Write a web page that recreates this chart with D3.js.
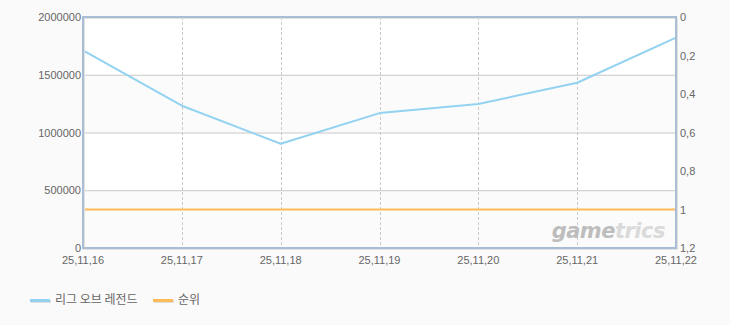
<!DOCTYPE html>
<html>
<head>
<meta charset="utf-8">
<script src="https://cdn.jsdelivr.net/npm/d3@7"></script>
<style>
  html, body { margin: 0; padding: 0; background: #fafafa; }
  svg { display: block; font-family: "Noto Sans CJK KR", "DejaVu Sans", sans-serif; }
</style>
</head>
<body>
<svg id="chart"></svg>
<script>
const dates = ["25,11,16", "25,11,17", "25,11,18", "25,11,19", "25,11,20", "25,11,21", "25,11,22"];
const players = [1710000, 1232000, 903000, 1168000, 1247000, 1431000, 1821000];
const ranks = [1, 1, 1, 1, 1, 1, 1];
const leftTicks = [0, 500000, 1000000, 1500000, 2000000];
const rightTicks = [0, 0.2, 0.4, 0.6, 0.8, 1, 1.2];
const seriesNames = ["리그 오브 레전드", "순위"];
const colors = ["#93d2f1", "#ffbb55"];

const width = 730, height = 325;
const margin = { top: 17, right: 54, bottom: 77, left: 83 };
const innerW = width - margin.left - margin.right;
const innerH = height - margin.top - margin.bottom;

const svg = d3.select("#chart").attr("width", width).attr("height", height);
svg.append("rect").attr("width", width).attr("height", height).attr("fill", "#fafafa");

const g = svg.append("g").attr("transform", `translate(${margin.left},${margin.top})`);

const x = d3.scalePoint().domain(dates).range([0, innerW]);
const y = d3.scaleLinear().domain([0, 2000000]).range([innerH, 0]);
const yR = d3.scaleLinear().domain([0, 1.2]).range([0, innerH]);

// ----------------------- background bands
g.selectAll(".band")
  .data(d3.pairs(leftTicks))
  .join("rect")
  .attr("class", "band")
  .attr("x", 0)
  .attr("width", innerW)
  .attr("y", d => y(d[1]))
  .attr("height", d => y(d[0]) - y(d[1]))
  .attr("fill", (_, i) => i % 2 === 0 ? "#fbfbfb" : "#ffffff");

// ----------------------- grid
g.selectAll(".hgrid")
  .data(leftTicks.slice(1, -1))
  .join("line")
  .attr("x1", 0).attr("x2", innerW)
  .attr("y1", d => y(d) + 0.5).attr("y2", d => y(d) + 0.5)
  .attr("stroke", "#c9c9c9");

g.selectAll(".vgrid")
  .data(dates.slice(1, -1))
  .join("line")
  .attr("x1", d => Math.round(x(d)) + 0.5).attr("x2", d => Math.round(x(d)) + 0.5)
  .attr("y1", 0).attr("y2", innerH)
  .attr("stroke", "#c9c9c9")
  .attr("stroke-dasharray", "3,2");

// ----------------------- watermark
const wm = g.append("text")
  .attr("x", innerW - 11)
  .attr("y", innerH - 10)
  .attr("text-anchor", "end")
  .attr("font-family", "DejaVu Sans")
  .attr("font-weight", "bold")
  .attr("font-style", "italic")
  .attr("font-size", 21)
  .attr("letter-spacing", -0.5);
wm.append("tspan").attr("fill", "#bdbdbd").text("game");
wm.append("tspan").attr("fill", "#dadada").text("trics");

// ----------------------- lines
const line = d3.line()
  .x((_, i) => x(dates[i]))
  .y(d => y(d));

g.append("path")
  .datum(players)
  .attr("fill", "none")
  .attr("stroke", colors[0])
  .attr("stroke-width", 2)
  .attr("stroke-linejoin", "round")
  .attr("d", line);

const rankLine = d3.line()
  .x((_, i) => x(dates[i]))
  .y(d => yR(d));

g.append("path")
  .datum(ranks)
  .attr("fill", "none")
  .attr("stroke", colors[1])
  .attr("stroke-width", 2)
  .attr("d", rankLine);

// ----------------------- frame
g.append("rect")
  .attr("x", 1).attr("y", 1)
  .attr("width", innerW).attr("height", innerH)
  .attr("fill", "none")
  .attr("stroke", "#e2e2e2")
  .attr("stroke-width", 2);
g.append("rect")
  .attr("x", 0).attr("y", 0)
  .attr("width", innerW).attr("height", innerH)
  .attr("fill", "none")
  .attr("stroke", "#a9bdd5")
  .attr("stroke-width", 2);

// ----------------------- axes labels
const labelColor = "#666";
const numFont = "Liberation Sans, Arial, sans-serif";

g.selectAll(".ly")
  .data(leftTicks)
  .join("text")
  .attr("x", -2)
  .attr("y", d => y(d) + 4)
  .attr("text-anchor", "end")
  .attr("font-family", numFont)
  .attr("font-size", 11)
  .attr("fill", labelColor)
  .text(d => d);

g.selectAll(".ry")
  .data(rightTicks)
  .join("text")
  .attr("x", innerW + 4)
  .attr("y", d => yR(d) + 4)
  .attr("font-family", numFont)
  .attr("font-size", 11)
  .attr("fill", labelColor)
  .text(d => String(+d.toFixed(1)).replace(".", ","));

g.selectAll(".lx")
  .data(dates)
  .join("text")
  .attr("x", d => x(d))
  .attr("y", innerH + 16)
  .attr("text-anchor", "middle")
  .attr("font-family", numFont)
  .attr("font-size", 11)
  .attr("fill", labelColor)
  .text(d => d);

// ----------------------- legend
const legendPos = [30, 153];
const lg = svg.selectAll(".legend")
  .data(seriesNames)
  .join("g")
  .attr("transform", (_, i) => `translate(${legendPos[i]},299)`);
lg.append("rect")
  .attr("x", 1).attr("y", 1).attr("width", 20).attr("height", 3)
  .attr("fill", "#dddddd");
lg.append("rect")
  .attr("x", 0).attr("y", 0).attr("width", 20).attr("height", 3)
  .attr("fill", (_, i) => colors[i]);
lg.append("text")
  .attr("x", 25).attr("y", 5)
  .attr("font-size", 12)
  .attr("fill", labelColor)
  .text(d => d);
</script>
</body>
</html>
